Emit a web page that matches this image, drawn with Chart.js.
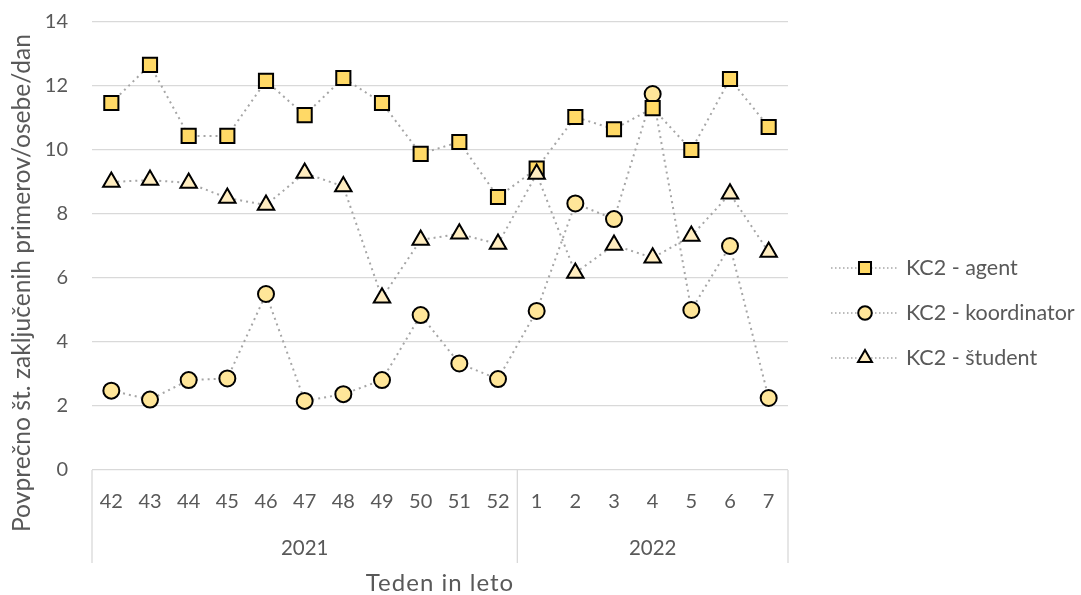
<!DOCTYPE html>
<html>
<head>
<meta charset="utf-8">
<script src="https://cdn.jsdelivr.net/npm/chart.js@4/dist/chart.umd.min.js"></script>
<style>
  html, body { margin: 0; padding: 0; background: #fff; }
  #wrap { width: 1081px; height: 595px; }
</style>
</head>
<body>
<div id="wrap"><canvas id="chart" width="1081" height="595"></canvas></div>
<script>
// week labels and the year each week belongs to
const weeks = ['42', '43', '44', '45', '46', '47', '48', '49', '50', '51', '52', '1', '2', '3', '4', '5', '6', '7'];
const years = ['2021', '2021', '2021', '2021', '2021', '2021', '2021', '2021', '2021', '2021', '2021',
               '2022', '2022', '2022', '2022', '2022', '2022', '2022'];

const seriesNames = ['KC2 - agent', 'KC2 - koordinator', 'KC2 - študent'];
const agent = [11.47, 12.66, 10.44, 10.44, 12.16, 11.09, 12.25, 11.47, 9.88, 10.25, 8.53, 9.42, 11.03, 10.65, 11.31, 10.0, 12.22, 10.72];
const koordinator = [2.48, 2.2, 2.81, 2.86, 5.5, 2.16, 2.37, 2.81, 4.84, 3.33, 2.84, 4.97, 8.33, 7.84, 11.75, 5.0, 7.0, 2.25];
const student = [9.0, 9.06, 8.97, 8.5, 8.28, 9.28, 8.86, 5.38, 7.19, 7.38, 7.06, 9.25, 6.16, 7.03, 6.63, 7.31, 8.63, 6.81];

const yTicks = [0, 2, 4, 6, 8, 10, 12, 14];
const yTitle = 'Povprečno št. zaključenih primerov/osebe/dan';
const xTitle = 'Teden in leto';

const FONT = 'Lato, "Open Sans", sans-serif';
const TEXT = '#595959';
const GRID = '#D9D9D9';

Chart.defaults.font.family = FONT;

function lineSet(label, data, style, fill, radius, order) {
  return {
    label: label,
    data: data,
    order: order,
    borderColor: '#A6A6A6',
    borderWidth: 2,
    borderDash: [2, 4],
    fill: false,
    tension: 0,
    pointStyle: style,
    pointRadius: radius,
    pointHoverRadius: radius,
    pointBackgroundColor: fill,
    pointBorderColor: '#000',
    pointBorderWidth: 2
  };
}

const datasets = [
  lineSet(seriesNames[0], agent, 'rect', '#FFD966', 10, 2),
  lineSet(seriesNames[1], koordinator, 'circle', '#FFE699', 8, 3),
  lineSet(seriesNames[2], student, 'triangle', '#FFEDC0', 9.5, 1)
];

// year grouping under the week labels, axis titles and the legend
const extras = {
  id: 'extras',
  afterDraw(chart) {
    const ctx = chart.ctx;
    const x = chart.scales.x;
    const area = chart.chartArea;
    const bottom = area.bottom + 93;

    ctx.save();
    ctx.strokeStyle = GRID;
    ctx.lineWidth = 1.3;

    let bounds = [area.left];
    for (let i = 1; i < years.length; i++) {
      if (years[i] !== years[i - 1]) {
        bounds.push((x.getPixelForValue(i - 1) + x.getPixelForValue(i)) / 2);
      }
    }
    bounds.push(area.right);
    bounds.forEach(b => {
      ctx.beginPath();
      ctx.moveTo(b, area.bottom);
      ctx.lineTo(b, bottom);
      ctx.stroke();
    });

    const groups = years.filter((y, i) => i === 0 || y !== years[i - 1]);
    ctx.fillStyle = TEXT;
    ctx.font = '20.5px ' + FONT;
    ctx.textAlign = 'center';
    ctx.textBaseline = 'middle';
    groups.forEach((g, i) => {
      ctx.fillText(g, (bounds[i] + bounds[i + 1]) / 2, area.bottom + 78);
    });

    ctx.font = '24px ' + FONT;
    ctx.letterSpacing = '1px';
    ctx.fillText(xTitle, (area.left + area.right) / 2, 583);
    ctx.letterSpacing = '0px';

    // y title sized to span the same length as in the original
    ctx.save();
    ctx.font = '22px ' + FONT;
    const size = 22 * 498 / ctx.measureText(yTitle).width;
    ctx.font = size.toFixed(1) + 'px ' + FONT;
    ctx.translate(22, 283);
    ctx.rotate(-Math.PI / 2);
    ctx.fillText(yTitle, 0, 0);
    ctx.restore();

    // legend
    const rows = [268, 313, 358];
    datasets.forEach((ds, i) => {
      const y = rows[i];
      ctx.strokeStyle = '#A6A6A6';
      ctx.lineWidth = 1.5;
      ctx.setLineDash([1.5, 2.5]);
      ctx.beginPath();
      ctx.moveTo(831, y);
      ctx.lineTo(897, y);
      ctx.stroke();
      ctx.setLineDash([]);
      ctx.fillStyle = ds.pointBackgroundColor;
      ctx.strokeStyle = '#000';
      ctx.lineWidth = 2;
      Chart.helpers.drawPoint(ctx, {
        pointStyle: ds.pointStyle,
        radius: ds.pointRadius * 0.85,
        rotation: 0,
        borderWidth: 2
      }, 865, y);
      ctx.fillStyle = TEXT;
      ctx.font = '21.5px ' + FONT;
      ctx.textAlign = 'left';
      ctx.fillText(ds.label, 906, y);
    });
    ctx.restore();
  }
};

new Chart(document.getElementById('chart'), {
  type: 'line',
  data: { labels: weeks, datasets: datasets },
  options: {
    responsive: false,
    devicePixelRatio: 1,
    animation: false,
    layout: { padding: { left: 0, right: 293, top: 22, bottom: 0 } },
    plugins: {
      legend: { display: false },
      tooltip: { enabled: false }
    },
    scales: {
      x: {
        type: 'category',
        offset: true,
        grid: { display: false, drawTicks: false },
        border: { display: false },
        ticks: {
          color: TEXT,
          font: { size: 20 },
          padding: 20,
          maxRotation: 0,
          autoSkip: false
        },
        afterFit(scale) {
          scale.height = 125;
          scale.paddingLeft = 0;
          scale.paddingRight = 0;
        }
      },
      y: {
        min: yTicks[0],
        max: yTicks[yTicks.length - 1],
        afterBuildTicks(scale) { scale.ticks = yTicks.map(v => ({ value: v })); },
        grid: { color: GRID, lineWidth: 1.3, drawTicks: false },
        border: { display: false },
        ticks: {
          color: TEXT,
          font: { size: 20 },
          padding: 24
        },
        afterFit(scale) {
          scale.width = 92;
          scale.paddingTop = 0;
          scale.paddingBottom = 0;
        }
      }
    }
  },
  plugins: [extras]
});
</script>
</body>
</html>
